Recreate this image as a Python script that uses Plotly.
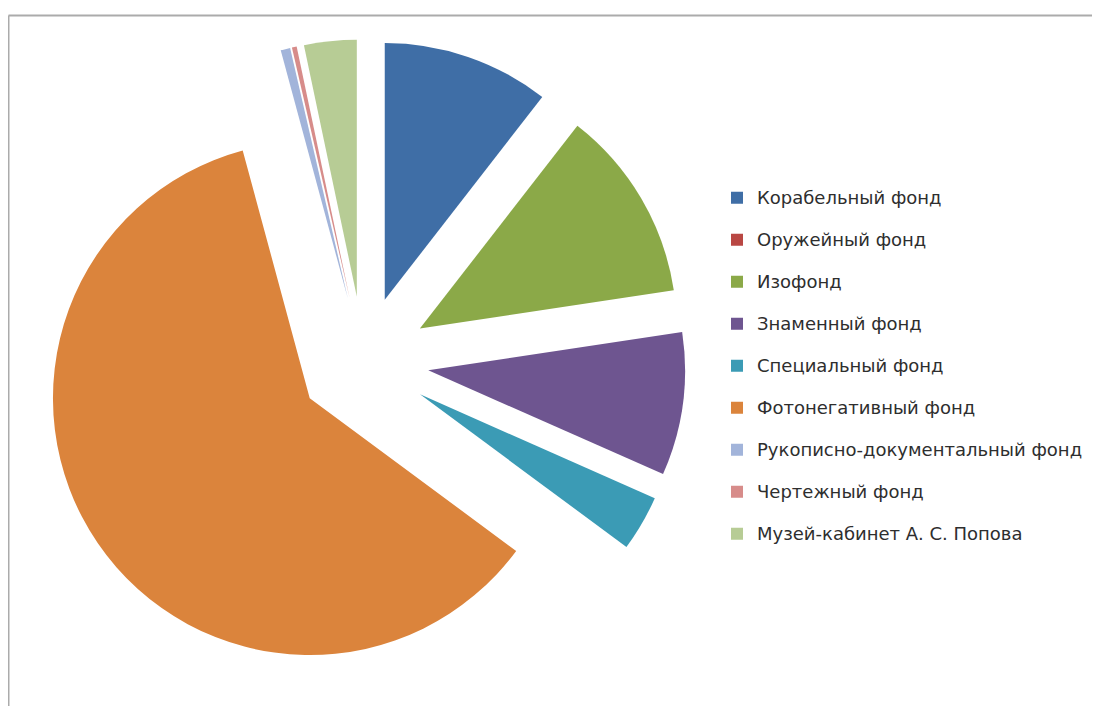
import plotly.graph_objects as go

labels = [
    "Корабельный фонд",
    "Оружейный фонд",
    "Изофонд",
    "Знаменный фонд",
    "Специальный фонд",
    "Фотонегативный фонд",
    "Рукописно-документальный фонд",
    "Чертежный фонд",
    "Музей-кабинет А. С. Попова",
]
values = [10.5, 0.0, 12.1, 9.0, 3.5, 60.6, 0.6, 0.3, 3.3]
colors = ["#3F6EA6", "#B94743", "#8BA948", "#6E5590", "#3B9BB5",
          "#DB843C", "#A2B4DA", "#D78C8A", "#B7CC95"]

legend_labels = ['<span style="font-size:18px">%s</span><br> ' % l for l in labels]

W, H = 1100, 706

fig = go.Figure()
fig.add_trace(go.Pie(
    labels=legend_labels,
    values=values,
    sort=False,
    direction="clockwise",
    rotation=0,
    pull=[0.254] * len(values),
    marker=dict(colors=colors, line=dict(width=0)),
    textinfo="none",
    hoverinfo="skip",
    domain=dict(x=[33.6 / W, 677.6 / W], y=[(H - 675.5) / H, (H - 31.5) / H]),
))

fig.update_layout(
    width=W,
    height=H,
    margin=dict(l=0, r=0, t=0, b=0),
    paper_bgcolor="white",
    plot_bgcolor="white",
    showlegend=True,
    legend=dict(
        x=709 / W,
        y=1 - 173.5 / H,
        xanchor="left",
        yanchor="top",
        valign="top",
        font=dict(family="DejaVu Sans", size=15, color="#2E2E2E"),
        bgcolor="rgba(0,0,0,0)",
    ),
    shapes=[
        dict(type="line", xref="paper", yref="paper",
             x0=0.5 / W, x1=1.0, y0=1 - 7.5 / H, y1=1 - 7.5 / H,
             line=dict(color="#ABABAB", width=2)),
        dict(type="line", xref="paper", yref="paper",
             x0=0.5 / W, x1=0.5 / W, y0=0, y1=1 - 7.5 / H,
             line=dict(color="#ABABAB", width=2)),
    ],
)

fig.write_html("out.html")
